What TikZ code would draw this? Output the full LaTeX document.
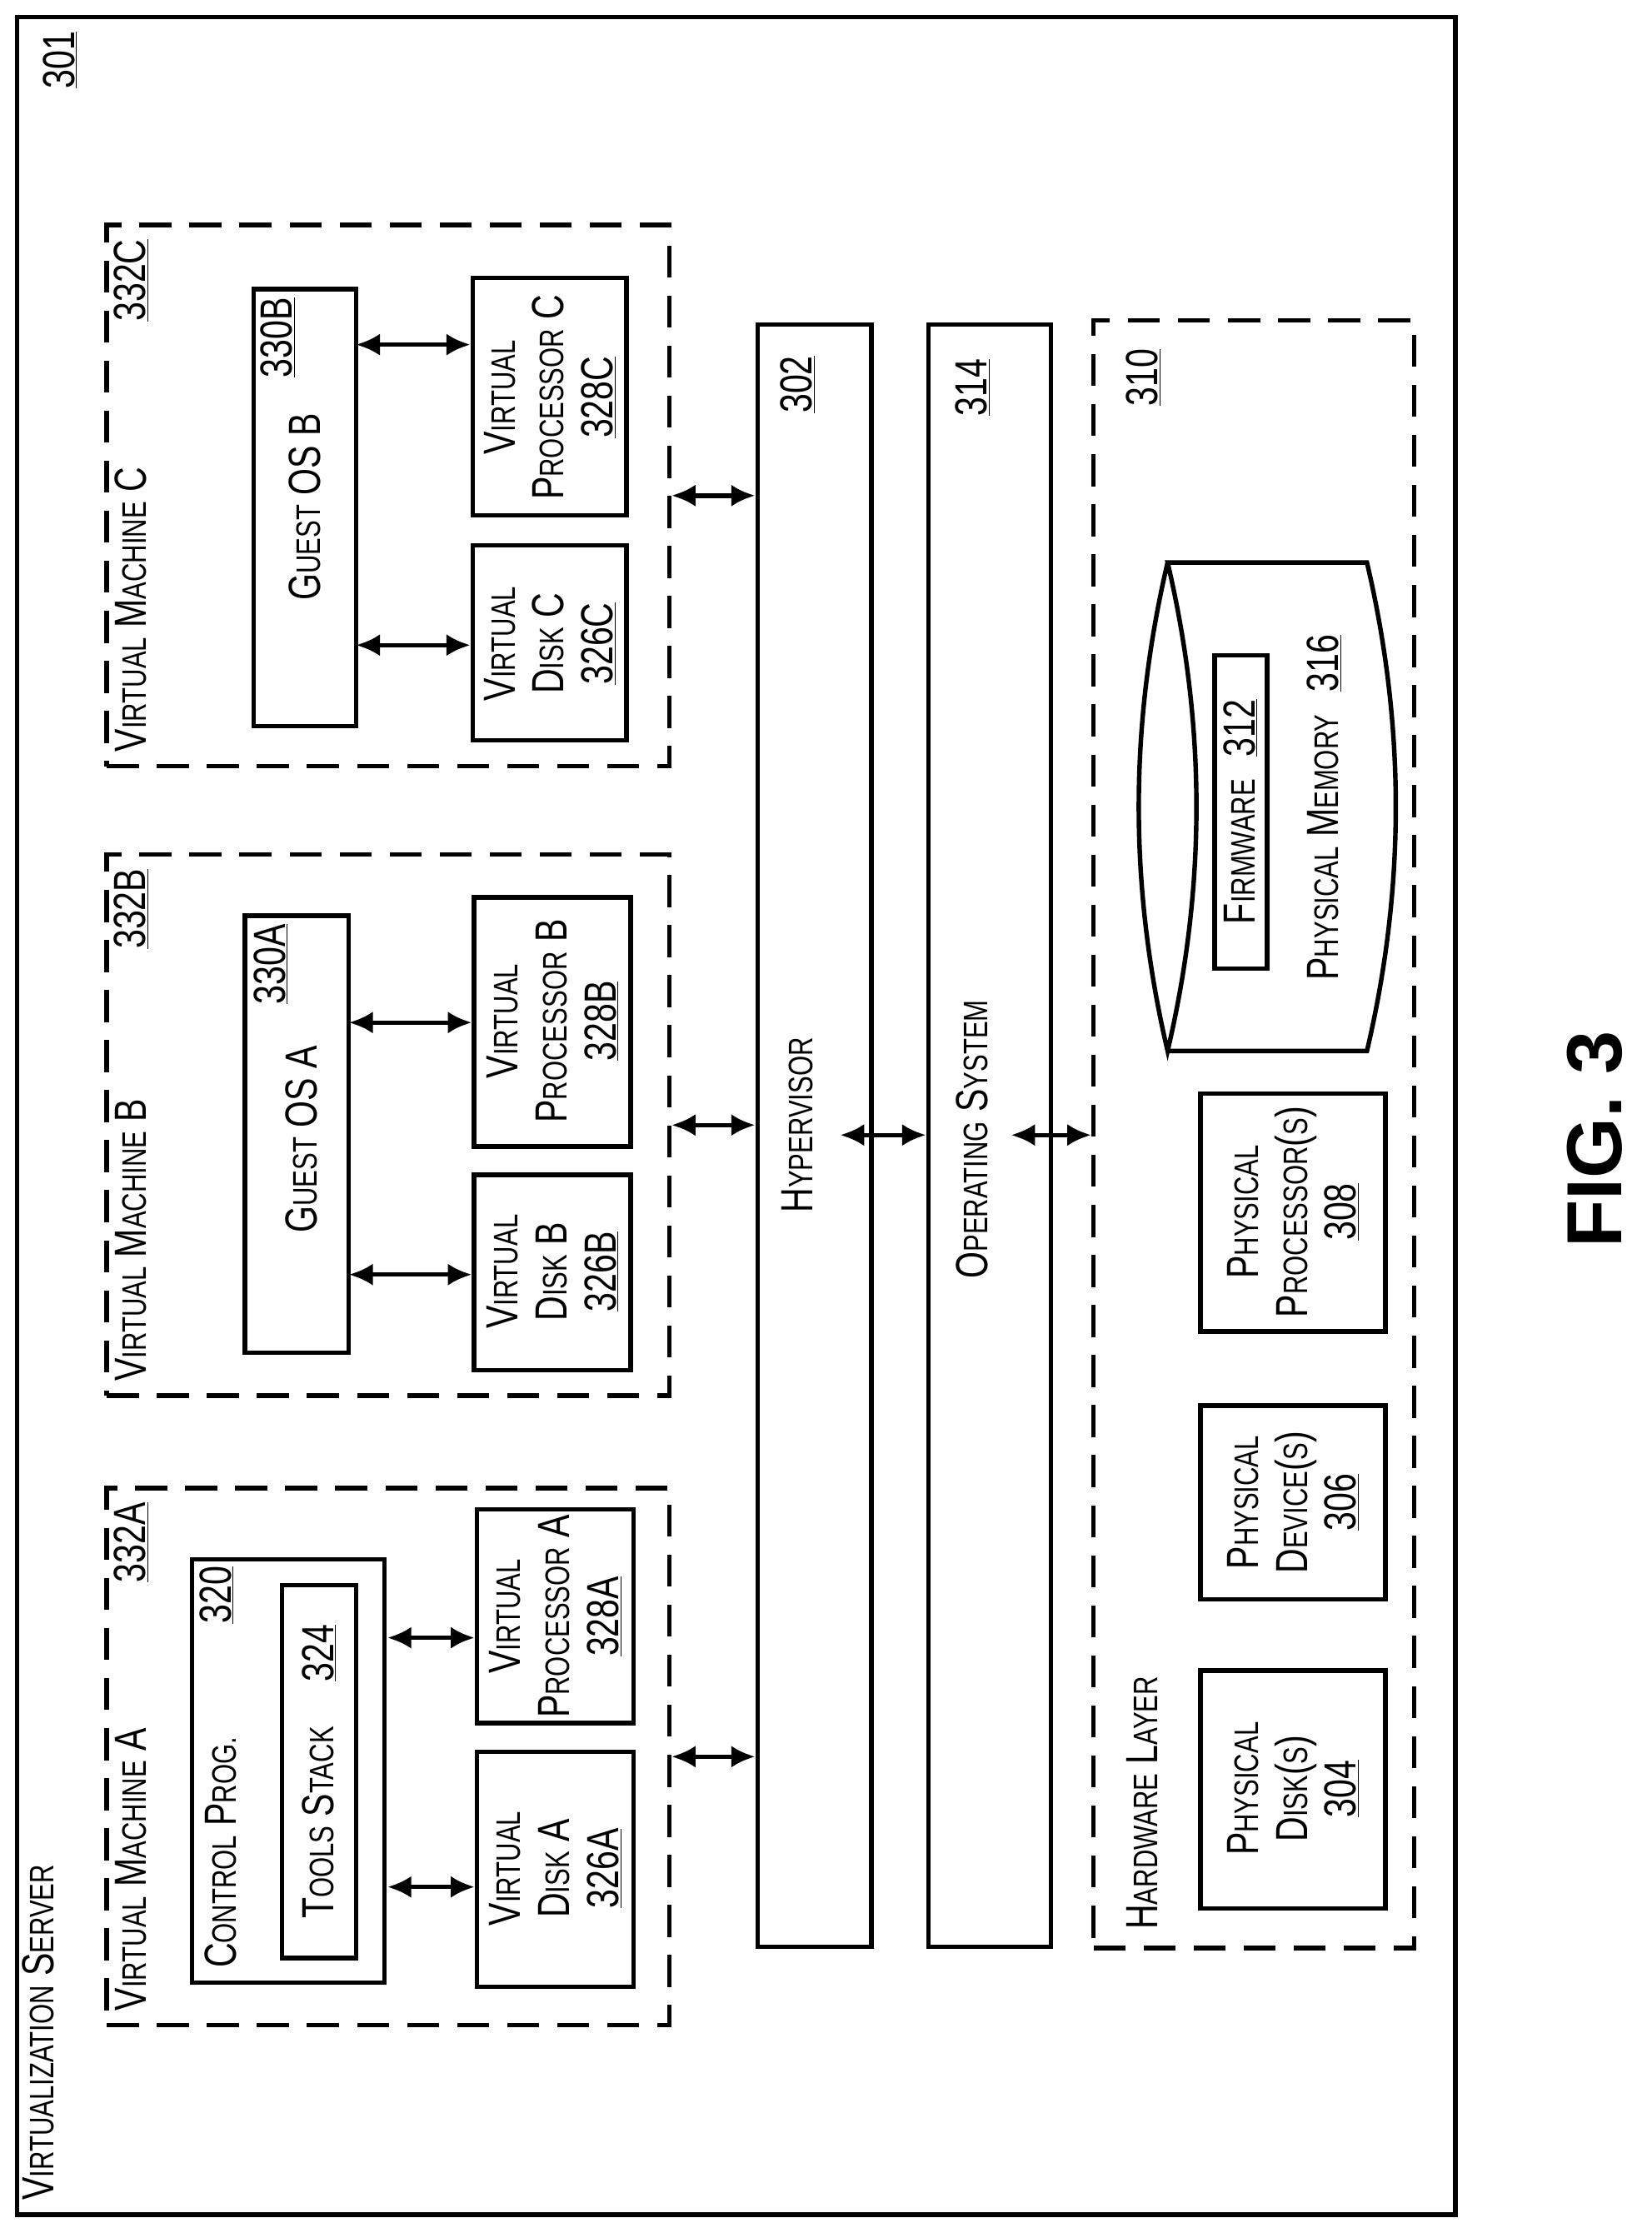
\documentclass[tikz,border=0pt]{standalone}
\usepackage{fontspec}
\setmainfont{Liberation Sans}[FakeStretch=0.76]
\newfontfamily\figfont{Liberation Sans}
\usetikzlibrary{fit,arrows.meta}
\newcommand\sm[1]{{\fontsize{34}{40}\selectfont #1}}
\begin{document}
\begin{tikzpicture}[x=0.05cm,y=-0.05cm,
  box/.style={draw,line width=4.5pt,inner sep=0pt},
  dbox/.style={draw,line width=4.5pt,inner sep=0pt,dash pattern=on 32pt off 18pt},
  t/.style={rotate=90,font=\fontsize{45}{49}\selectfont,align=center,inner sep=0pt},
  arr/.style={{Latex[length=24pt,width=22pt]}-{Latex[length=24pt,width=22pt]},line width=4.5pt}]
\useasboundingbox (0,0) rectangle (1160,1568);
% outer
\node[box,fit={(12,12)(1022,1555)}] (srv) {};
\node[t,anchor=west] (srvl) at (27,1545) {V\sm{IRTUALIZATION} S\sm{ERVER}};
\node[t] (n301) at (42,42) {\underline{301}};
% VM A
\node[dbox,fit={(75,1045)(470,1422)}] (vmA) {};
\node[t,anchor=west] (vmAl) at (92,1412) {V\sm{IRTUAL} M\sm{ACHINE} A};
\node[t,anchor=east] (n332A) at (92,1055) {\underline{332A}};
\node[box,fit={(135,1095)(270,1392)}] (ctrl) {};
\node[t,anchor=west] (ctrll) at (155,1382) {C\sm{ONTROL} P\sm{ROG.}};
\node[t] (n320) at (152,1120) {\underline{320}};
\node[box,fit={(198,1113)(250,1375)}] (tools) {};
\node[t] (toolsl) at (224,1244) {T\sm{OOLS} S\sm{TACK}\quad\underline{324}};
\node[box,fit={(335,1230)(445,1395)}] (vdA) {};
\node[t] (vdAl) at (390,1312) {V\sm{IRTUAL}\\D\sm{ISK} A\\\underline{326A}};
\node[box,fit={(335,1060)(445,1210)}] (vpA) {};
\node[t] (vpAl) at (390,1135) {V\sm{IRTUAL}\\P\sm{ROCESSOR} A\\\underline{328A}};
\coordinate (a1) at (272,1325); \coordinate (a2) at (272,1150);
\draw[arr] (a1) -- (a1 -| vdA.west);
\draw[arr] (a2) -- (a2 -| vpA.west);
% VM B
\node[dbox,fit={(75,600)(470,980)}] (vmB) {};
\node[t,anchor=west] (vmBl) at (92,970) {V\sm{IRTUAL} M\sm{ACHINE} B};
\node[t,anchor=east] (n332B) at (92,610) {\underline{332B}};
\node[box,fit={(172,643)(245,950)}] (gA) {};
\node[t] (gAl) at (212,800) {G\sm{UEST} OS A};
\node[t] (n330A) at (190,677) {\underline{330A}};
\node[box,fit={(333,825)(443,962)}] (vdB) {};
\node[t] (vdBl) at (388,893) {V\sm{IRTUAL}\\D\sm{ISK} B\\\underline{326B}};
\node[box,fit={(333,630)(443,805)}] (vpB) {};
\node[t] (vpBl) at (388,717) {V\sm{IRTUAL}\\P\sm{ROCESSOR} B\\\underline{328B}};
\coordinate (b1) at (245,895); \coordinate (b2) at (245,718);
\draw[arr] (b1) -- (b1 -| vdB.west);
\draw[arr] (b2) -- (b2 -| vpB.west);
% VM C
\node[dbox,fit={(75,158)(470,538)}] (vmC) {};
\node[t,anchor=west] (vmCl) at (92,528) {V\sm{IRTUAL} M\sm{ACHINE} C};
\node[t,anchor=east] (n332C) at (92,168) {\underline{332C}};
\node[box,fit={(178,203)(250,510)}] (gB) {};
\node[t] (gBl) at (214,356) {G\sm{UEST} OS B};
\node[t] (n330B) at (195,237) {\underline{330B}};
\node[box,fit={(332,383)(440,520)}] (vdC) {};
\node[t] (vdCl) at (386,452) {V\sm{IRTUAL}\\D\sm{ISK} C\\\underline{326C}};
\node[box,fit={(332,195)(440,362)}] (vpC) {};
\node[t] (vpCl) at (386,279) {V\sm{IRTUAL}\\P\sm{ROCESSOR} C\\\underline{328C}};
\coordinate (c1) at (250,453); \coordinate (c2) at (250,242);
\draw[arr] (c1) -- (c1 -| vdC.west);
\draw[arr] (c2) -- (c2 -| vpC.west);
% hypervisor, OS
\node[box,fit={(532,228)(612,1367)}] (hv) {};
\node[t] (hvl) at (560,790) {H\sm{YPERVISOR}};
\node[t] (n302) at (560,270) {\underline{302}};
\node[box,fit={(652,228)(738,1367)}] (os) {};
\node[t] (osl) at (683,800) {O\sm{PERATING} S\sm{YSTEM}};
\node[t] (n314) at (683,272) {\underline{314}};
\draw[arr] (vmA.east) -- (vmA.east -| hv.west);
\draw[arr] (vmB.east) -- (vmB.east -| hv.west);
\draw[arr] (vmC.east) -- (vmC.east -| hv.west);
\coordinate (h1) at (590,797);
\draw[arr] (h1) -- (h1 -| os.west);
% hardware
\node[dbox,fit={(768,225)(993,1368)}] (hw) {};
\coordinate (h2) at (710,797);
\draw[arr] (h2) -- (h2 -| hw.west);
\node[t] (n310) at (803,265) {\underline{310}};
\node[t,anchor=west] (hwl) at (802,1355) {H\sm{ARDWARE} L\sm{AYER}};
\node[box,fit={(843,1173)(973,1340)}] (pd) {};
\node[t] (pdl) at (908,1256) {P\sm{HYSICAL}\\D\sm{ISK}(\sm{S})\\\underline{304}};
\node[box,fit={(843,987)(973,1123)}] (pdev) {};
\node[t] (pdevl) at (908,1055) {P\sm{HYSICAL}\\D\sm{EVICE}(\sm{S})\\\underline{306}};
\node[box,fit={(843,768)(973,935)}] (pp) {};
\node[t] (ppl) at (908,851) {P\sm{HYSICAL}\\P\sm{ROCESSOR}(\sm{S})\\\underline{308}};
% memory cylinder
\draw[line width=4.5pt] (820,395) .. controls (793,510) and (793,623) .. (820,738)
  .. controls (847,623) and (847,510) .. (820,395) -- (960,395)
  .. controls (987,510) and (987,623) .. (960,738) -- (820,738);
\node[box,fit={(853,460)(890,680)}] (fw) {};
\node[t] (fwl) at (871,570) {F\sm{IRMWARE}\enspace\underline{312}};
\node[t] (pml) at (930,567) {P\sm{HYSICAL} M\sm{EMORY}\enspace\underline{316}};
\node[rotate=90,font=\figfont\fontsize{78}{90}\selectfont\bfseries] (fig) at (1120,800) {FIG. 3};
\end{tikzpicture}
\end{document}
